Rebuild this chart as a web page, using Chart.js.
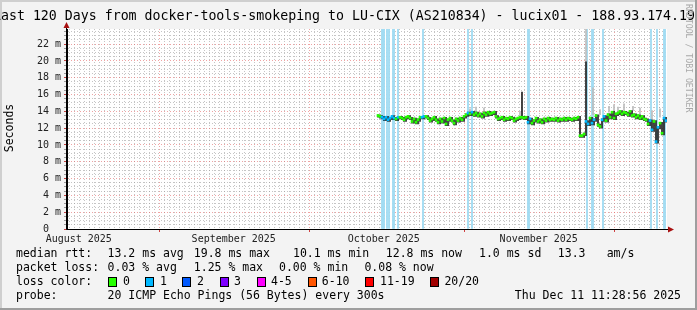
<!DOCTYPE html>
<html><head><meta charset="utf-8">
<script src="https://cdn.jsdelivr.net/npm/chart.js@4.4.0/dist/chart.umd.min.js"></script>
<style>html,body{margin:0;padding:0;background:#f3f3f3;overflow:hidden}canvas{display:block}</style>
</head><body>
<canvas id="c" width="697" height="310"></canvas>
<script>
const TITLE = "Last 120 Days from docker-tools-smokeping to LU-CIX (AS210834) - lucix01 - 188.93.174.19";
const Y_MAX = 23.8;
const DAYS = 120;
const dayGridStart = 0.52;
const monthLines = [18.52, 48.52, 79.52, 109.52];
const monthLabels = ["August 2025", "September 2025", "October 2025", "November 2025"];
const monthLabelDays = [2.35, 33.35, 63.35, 94.35];

const firstDay = 62.2, stepDays = 0.4;
const median = [
 13.5,13.4,13.3,13.1,13.3,13.0,13.2,13.4,
 13.2,13.1,13.3,13.3,13.2,13.0,13.3,
 13.4,13.2,12.8,13.1,12.7,13.0,13.3,
 13.3,13.4,13.4,13.2,12.9,13.1,13.3,
 13.0,12.7,13.1,12.8,13.2,12.5,13.0,13.2,
 12.9,12.6,13.1,12.9,13.2,13.0,13.4,
 13.6,13.8,13.7,13.9,13.6,13.8,13.5,
 13.7,13.4,13.8,13.6,13.9,13.7,13.8,13.9,
 13.4,13.1,13.2,13.3,13.0,13.2,13.1,
 13.3,13.2,12.9,13.1,13.2,13.3,
 13.3,
 13.2,13.3,12.7,13.1,12.6,12.9,13.2,
 12.8,13.0,12.7,13.1,12.9,13.2,13.0,
 13.1,13.0,13.2,12.9,13.1,13.0,13.2,
 13.0,13.2,13.1,13.0,13.2,13.1,13.3,
 11.1,11.1,11.3,
 12.8,12.5,13.2,
 12.6,13.0,13.5,12.4,12.2,13.0,13.4,
 12.9,13.6,13.3,13.9,13.2,13.7,13.8,
 14.0,13.7,13.9,13.8,13.6,14.0,13.5,
 13.6,13.3,13.5,13.2,13.4,13.1,13.0,
 12.5,12.9,11.8,12.8,10.4,
 12.1,12.6,11.4,13.2,12.9
];
const smokeLo = [
 13.3,13.2,13.1,12.9,12.9,12.8,12.8,13.0,
 13.0,12.9,12.9,13.1,13.0,12.8,12.8,
 13.1,13.0,12.6,12.6,12.5,12.5,12.8,
 13.1,13.1,13.2,13.0,12.7,12.7,12.9,
 12.8,12.5,12.5,12.6,12.6,12.3,12.3,12.8,
 12.7,12.4,12.4,12.7,12.7,12.8,12.8,
 13.2,13.4,13.5,13.5,13.4,13.4,13.3,
 13.3,13.2,13.2,13.4,13.4,13.5,13.5,13.6,
 13.2,12.9,12.9,13.0,12.8,12.8,12.9,
 12.9,13.0,12.7,12.7,12.9,13.0,
 13.1,
 13.0,13.0,12.5,12.5,12.4,12.4,12.7,
 12.6,12.6,12.5,12.5,12.7,12.7,12.8,
 12.8,12.8,12.8,12.7,12.7,12.8,12.8,
 12.8,12.8,12.9,12.8,12.8,12.9,12.9,
 10.9,10.9,10.9,
 11.1,12.3,12.3,
 12.4,12.4,12.8,12.2,12.0,12.0,12.8,
 12.7,12.7,13.1,13.1,13.0,13.0,13.5,
 13.6,13.5,13.5,13.6,13.4,13.4,13.3,
 13.3,13.1,13.1,13.0,13.0,12.9,12.8,
 12.3,12.3,11.6,11.6,10.2,
 10.2,11.9,11.2,11.2,12.7
];
const smokeHi = [
 13.6,13.6,13.5,13.4,13.4,13.4,13.3,13.5,
 13.5,13.3,13.4,13.4,13.4,13.3,13.4,
 13.5,13.5,13.3,13.2,13.2,13.1,13.4,
 13.4,13.5,13.5,13.5,13.3,13.2,13.4,
 13.4,13.1,13.2,13.2,13.3,13.3,13.1,13.3,
 13.3,13.0,13.2,13.2,13.3,13.3,13.5,
 13.7,13.9,13.9,14.0,14.0,13.9,13.9,
 13.8,13.8,13.9,13.9,14.0,14.0,13.9,14.0,
 14.0,13.5,13.3,13.4,13.4,13.3,13.3,
 13.4,13.4,13.3,13.2,13.3,13.4,
 16.3,
 13.4,13.4,13.4,13.2,13.2,13.0,13.3,
 13.3,13.1,13.1,13.2,13.2,13.3,13.3,
 13.2,13.2,13.3,13.3,13.2,13.2,13.3,
 13.3,13.3,13.3,13.2,13.3,13.3,13.4,
 13.4,11.2,11.4,
 19.9,12.9,13.3,
 13.3,13.1,13.6,13.6,12.5,13.1,13.5,
 13.5,13.7,13.7,14.0,14.0,13.8,13.9,
 14.1,14.1,14.0,14.0,13.9,14.1,14.1,
 13.7,13.7,13.6,13.6,13.5,13.5,13.2,
 13.1,13.0,13.0,12.9,12.9,
 12.2,12.7,12.7,13.3,13.3
];
const outerDays = [80.6, 81.8, 83.4, 90.6, 103.8, 105.2, 106.6, 108.4, 109.4, 110.2, 111.4, 113.2, 114.6, 117.0, 118.6];
const outerLo = [13.8, 13.9, 13.9, 13.3, 19.9, 13.6, 13.6, 13.9, 14.0, 13.9, 14.1, 14.1, 13.7, 13.1, 13.3];
const outerHi = [14.3, 14.5, 14.4, 14.0, 23.8, 16.8, 14.2, 14.6, 14.8, 14.5, 14.9, 14.6, 14.4, 14.1, 14.3];
const lossDays = [63.0, 63.2, 63.4, 64.0, 64.4, 65.2, 65.4, 66.2, 71.2, 80.2, 81.0, 92.2, 92.4, 104.0, 105.0, 105.2, 107.2, 116.8, 118.0, 119.4, 119.6];

const lossColorLabels = ["0", "1", "2", "3", "4-5", "6-10", "11-19", "20/20"];
const lossColors = ["#26ff00", "#00b8ff", "#0059ff", "#7e00ff", "#ff00ff", "#ff5500", "#ff0000", "#a10000"];
const statsRtt = ["13.2 ms avg", "19.8 ms max", "10.1 ms min", "12.8 ms now", "1.0 ms sd", "13.3", "am/s"];
const statsLoss = ["0.03 % avg", "1.25 % max", "0.00 % min", "0.08 % now"];
const probeText = "20 ICMP Echo Pings (56 Bytes) every 300s";
const stampText = "Thu Dec 11 11:28:56 2025";

const MONO = '"DejaVu Sans Mono", monospace';
const majorGrid = 'rgba(225,90,90,0.55)';
const minorGrid = 'rgba(150,150,150,0.55)';
const isNear = (a, b, t) => Math.abs(a - b) < t;

const dayOf = i => firstDay + i * stepDays;
const medianData = median.map((m, i) => ({x: dayOf(i), y: [m - 0.12, m + 0.12]}));
const smokeData = median.map((m, i) => ({x: dayOf(i), y: [smokeLo[i], smokeHi[i]]}));
const outerData = outerDays.map((d, i) => ({x: d, y: [outerLo[i], outerHi[i]]}));
const lossData = lossDays.map(d => ({x: d, y: [0, Y_MAX]}));

const decor = {
  id: 'decor',
  beforeDraw(chart) {
    const {ctx, chartArea: a, width: W, height: H} = chart;
    ctx.save();
    ctx.fillStyle = '#f3f3f3'; ctx.fillRect(0, 0, W, H);
    ctx.fillStyle = '#ffffff'; ctx.fillRect(a.left, a.top, a.right - a.left, a.bottom - a.top);
    ctx.fillStyle = '#cfcfcf'; ctx.fillRect(0, 0, W, 2); ctx.fillRect(0, 0, 2, H);
    ctx.fillStyle = '#9e9e9e'; ctx.fillRect(0, H - 2, W, 2); ctx.fillRect(W - 2, 0, 2, H);
    ctx.restore();
  },
  afterDraw(chart) {
    const {ctx, chartArea: a} = chart;
    ctx.save();
    // axis extensions and arrows
    ctx.strokeStyle = '#000'; ctx.lineWidth = 1;
    ctx.beginPath(); ctx.moveTo(a.left - 0.5, a.bottom + 0.5); ctx.lineTo(a.right + 2, a.bottom + 0.5); ctx.stroke();
    ctx.beginPath(); ctx.moveTo(a.left - 0.5, a.bottom + 0.5); ctx.lineTo(a.left - 0.5, a.top - 2); ctx.stroke();
    ctx.fillStyle = '#a81010';
    ctx.beginPath(); ctx.moveTo(a.right + 7, a.bottom + 0.5); ctx.lineTo(a.right + 1, a.bottom - 2.5); ctx.lineTo(a.right + 1, a.bottom + 3.5); ctx.closePath(); ctx.fill();
    ctx.beginPath(); ctx.moveTo(a.left - 0.5, a.top - 7); ctx.lineTo(a.left - 3.5, a.top - 1); ctx.lineTo(a.left + 2.5, a.top - 1); ctx.closePath(); ctx.fill();
    // title
    ctx.fillStyle = '#000'; ctx.textBaseline = 'middle'; ctx.textAlign = 'left';
    ctx.font = '13.25px ' + MONO;
    ctx.fillText(TITLE, -7, 17);
    // watermark
    ctx.save();
    ctx.translate(688, 4); ctx.rotate(Math.PI / 2);
    ctx.font = '8.2px ' + MONO; ctx.fillStyle = '#a8a8a8'; ctx.textBaseline = 'middle';
    ctx.fillText('RRDTOOL / TOBI OETIKER', 0, 0);
    ctx.restore();
    // y title
    ctx.save();
    ctx.translate(10, 128); ctx.rotate(-Math.PI / 2);
    ctx.font = '11.5px ' + MONO; ctx.fillStyle = '#000'; ctx.textAlign = 'center'; ctx.textBaseline = 'middle';
    ctx.fillText('Seconds', 0, 0);
    ctx.restore();
    // legend rows
    ctx.font = '11.5px ' + MONO; ctx.fillStyle = '#000'; ctx.textBaseline = 'middle'; ctx.textAlign = 'left';
    const r1 = 254, r2 = 268, r3 = 282, r4 = 296;
    ctx.fillText('median rtt:', 16, r1);
    const rttX = [107.6, 193.8, 293, 385.8, 479, 557.8, 606.7];
    statsRtt.forEach((t, i) => ctx.fillText(t, rttX[i], r1));
    ctx.fillText('packet loss:', 16, r2);
    const lossX = [107.6, 193.8, 279, 364.4];
    statsLoss.forEach((t, i) => ctx.fillText(t, lossX[i], r2));
    ctx.fillText('loss color:', 16, r3);
    const boxX = [108, 145, 182, 219.5, 257, 307.5, 365, 430];
    const labX = [123, 160, 197, 234, 271, 321.8, 380, 444.4];
    lossColorLabels.forEach((t, i) => {
      ctx.fillStyle = lossColors[i];
      ctx.fillRect(Math.round(boxX[i]), r3 - 4, 8, 8);
      ctx.strokeStyle = '#000'; ctx.lineWidth = 1;
      ctx.strokeRect(Math.round(boxX[i]) + 0.5, r3 - 4.5, 8, 9);
      ctx.fillStyle = '#000';
      ctx.fillText(t, labX[i], r3);
    });
    ctx.fillText('probe:', 16, r4);
    ctx.fillText(probeText, 107.6, r4);
    ctx.textAlign = 'right';
    ctx.fillText(stampText, 681, r4);
    ctx.restore();
  }
};

new Chart(document.getElementById('c'), {
  type: 'bar',
  data: {
    datasets: [
      {data: lossData, backgroundColor: '#a2dcf3', barThickness: 1.2, grouped: false, order: 4},
      {data: outerData, backgroundColor: '#bdbdbd', barThickness: 1, grouped: false, order: 3},
      {data: smokeData, backgroundColor: '#1e1e1e', barThickness: 1, grouped: false, order: 2},
      {data: medianData, barThickness: 2, grouped: false, order: 1,
       backgroundColor: c => (c.raw && lossDays.some(d => isNear(d, c.raw.x, 0.3))) ? lossColors[1] : lossColors[0]}
    ]
  },
  options: {
    responsive: false, animation: false, devicePixelRatio: 1,
    layout: {padding: {top: 29, right: 30, left: 0, bottom: 0}},
    plugins: {legend: {display: false}, tooltip: {enabled: false}},
    scales: {
      x: {
        type: 'linear', min: 0, max: DAYS, offset: false, bounds: 'data',
        afterBuildTicks: s => {
          const t = [];
          for (let k = 0; k < DAYS; k++) t.push({value: dayGridStart + k});
          monthLabelDays.forEach(d => t.push({value: d}));
          t.sort((p, q) => p.value - q.value);
          s.ticks = t;
        },
        afterFit: s => { s.height = 81; },
        grid: {
          offset: false, lineWidth: 1, tickLength: 3,
          color: c => {
            const v = c.tick ? c.tick.value : -1;
            if (monthLabelDays.some(d => isNear(d, v, 1e-6))) return 'rgba(0,0,0,0)';
            return monthLines.some(d => isNear(d, v, 1e-3)) ? majorGrid : minorGrid;
          },
          tickColor: c => {
            const v = c.tick ? c.tick.value : -1;
            return monthLines.some(d => isNear(d, v, 1e-3)) ? '#d04040' : 'rgba(0,0,0,0)';
          }
        },
        border: {display: true, color: '#000', width: 1, dash: [1, 2]},
        ticks: {
          autoSkip: false, maxRotation: 0, minRotation: 0, padding: 1,
          font: {family: MONO, size: 10}, color: '#222',
          callback: v => {
            const i = monthLabelDays.findIndex(d => isNear(d, v, 1e-6));
            return i >= 0 ? monthLabels[i] : '';
          }
        }
      },
      y: {
        type: 'linear', min: 0, max: Y_MAX, bounds: 'data',
        afterBuildTicks: s => {
          const t = [];
          for (let k = 0; k * 0.5 <= Y_MAX; k++) t.push({value: k * 0.5});
          s.ticks = t;
        },
        afterFit: s => { s.width = 67; },
        grid: {
          lineWidth: 1, tickLength: 3,
          color: c => (c.tick && c.tick.value % 2 === 0) ? majorGrid : minorGrid,
          tickColor: c => (c.tick && c.tick.value % 2 === 0) ? '#c04040' : '#999'
        },
        border: {display: true, color: '#000', width: 1, dash: [1, 2]},
        ticks: {
          autoSkip: false, padding: 3,
          font: {family: MONO, size: 10}, color: '#222',
          callback: v => (v % 2 === 0) ? (v === 0 ? '0  ' : v + ' m') : ''
        }
      }
    }
  },
  plugins: [decor]
});
</script>
</body></html>
